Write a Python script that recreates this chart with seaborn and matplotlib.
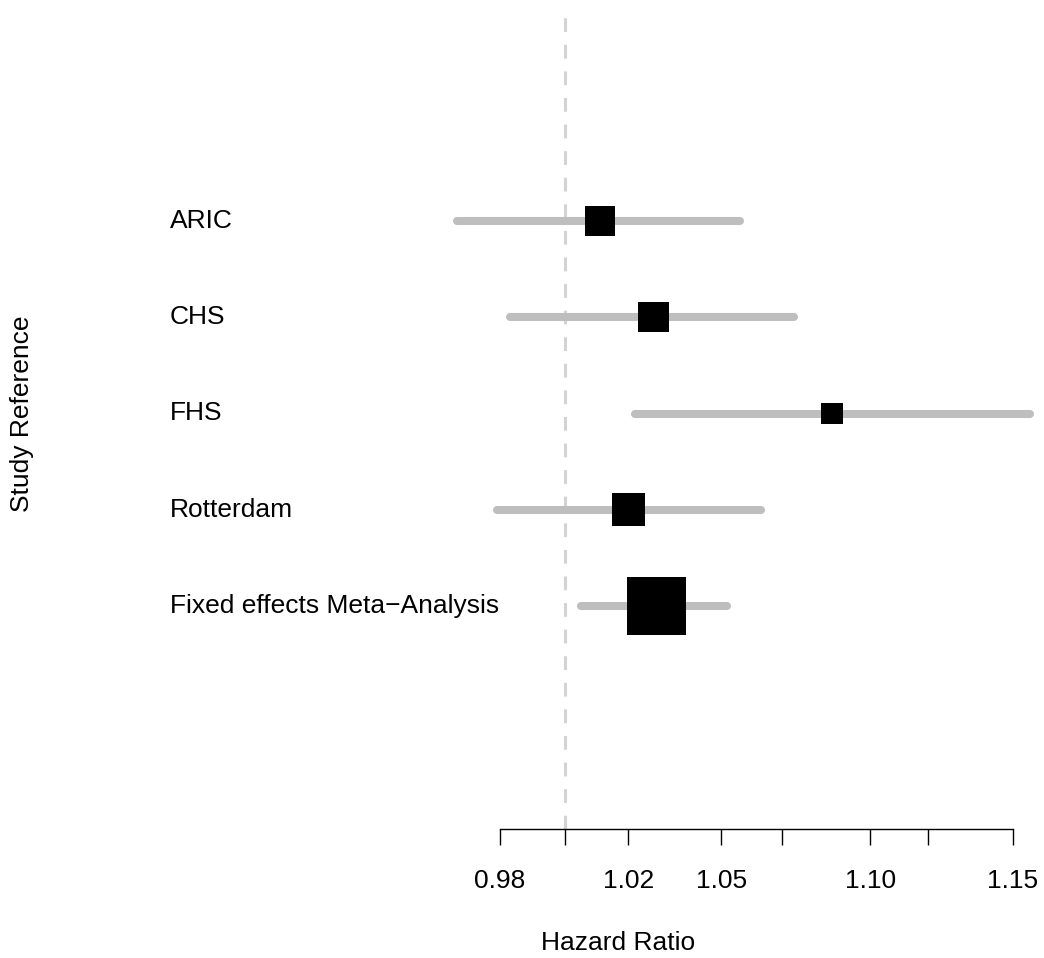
import numpy as np
import pandas as pd
import matplotlib
matplotlib.use("Agg")
import matplotlib.pyplot as plt
import seaborn as sns
from matplotlib.transforms import blended_transform_factory
from matplotlib.ticker import NullLocator

# ---- data ----
studies = ["ARIC", "CHS", "FHS", "Rotterdam", "Fixed effects Meta\u2212Analysis"]
hr = [1.011, 1.028, 1.087, 1.020, 1.029]
ci_low = [0.967, 0.983, 1.022, 0.979, 1.005]
ci_high = [1.056, 1.074, 1.156, 1.063, 1.052]
tick_values = [0.98, 1.00, 1.02, 1.05, 1.07, 1.10, 1.12, 1.15]
tick_labels = ["0.98", "", "1.02", "1.05", "", "1.10", "", "1.15"]

df = pd.DataFrame({"study": studies, "hr": hr, "lo": ci_low, "hi": ci_high})
df["row"] = np.arange(len(df))
# box size proportional to precision (1/SE on log scale)
se = (np.log(df["hi"]) - np.log(df["lo"])) / (2 * 1.96)
prec = 1 / se
side_pt = 42.3 * prec / prec.max()
df["area"] = side_pt ** 2

sns.set_theme(style="white")
plt.rcParams["font.family"] = ["Liberation Sans", "DejaVu Sans"]
plt.rcParams["text.color"] = "black"

W, H = 1044, 958
fig = plt.figure(figsize=(W / 100, H / 100), dpi=100)
ax_bottom_px = 829
ax = fig.add_axes([440 / W, (H - ax_bottom_px) / H, 1 - 440 / W, ax_bottom_px / H])
ax.set_xscale("log")

# x range: 0.98 at px 500, 1.15 at px 1013
k = (1013 - 500) / (np.log(1.15) - np.log(0.98))
ax.set_xlim(np.exp(np.log(0.98) - (500 - 440) / k), np.exp(np.log(1.15) + (1044 - 1013) / k))
# y range: rows at px 221 + 96.25*i
ax.set_ylim((ax_bottom_px - 221) / 96.25, -221 / 96.25)

# reference line
ax.axvline(1.0, ymin=0, ymax=1 - 10 / ax_bottom_px, color="#d3d3d3", lw=2.2,
           linestyle=(0, (4.5, 4.2)), zorder=1)

# CI lines
for _, r in df.iterrows():
    ax.plot([r["lo"], r["hi"]], [r["row"], r["row"]], color="#bebebe", lw=5.8,
            solid_capstyle="round", zorder=2, clip_on=False)

# boxes
sns.scatterplot(data=df, x="hr", y="row", s=df["area"].values, marker="s",
                color="black", linewidth=0, legend=False, ax=ax, zorder=3, clip_on=False)

# row labels
trans = blended_transform_factory(fig.transFigure, ax.transData)
for _, r in df.iterrows():
    ax.text(170 / W, r["row"], r["study"], transform=trans, ha="left", va="center",
            fontsize=19, color="black")

# axes styling
for s in ["left", "top", "right"]:
    ax.spines[s].set_visible(False)
ax.spines["bottom"].set_bounds(0.98, 1.15)
ax.spines["bottom"].set_color("black")
ax.spines["bottom"].set_linewidth(1.0)
ax.set_xticks(tick_values)
ax.set_xticklabels(tick_labels)
ax.xaxis.set_minor_locator(NullLocator())
ax.tick_params(axis="x", bottom=True, direction="out", length=11.5, width=1.0,
               color="black", pad=17, labelsize=19, labelcolor="black")
ax.set_yticks([])
ax.set_xlabel("")
ax.set_ylabel("")
ax.set_facecolor("white")

fig.text(22 / W, 1 - 414 / H, "Study Reference", rotation=90, ha="center", va="center",
         fontsize=19, color="black")
fig.text(618 / W, 1 - 943 / H, "Hazard Ratio", ha="center", va="center",
         fontsize=19, color="black")

fig.savefig("out.png", dpi=100, facecolor="white")
